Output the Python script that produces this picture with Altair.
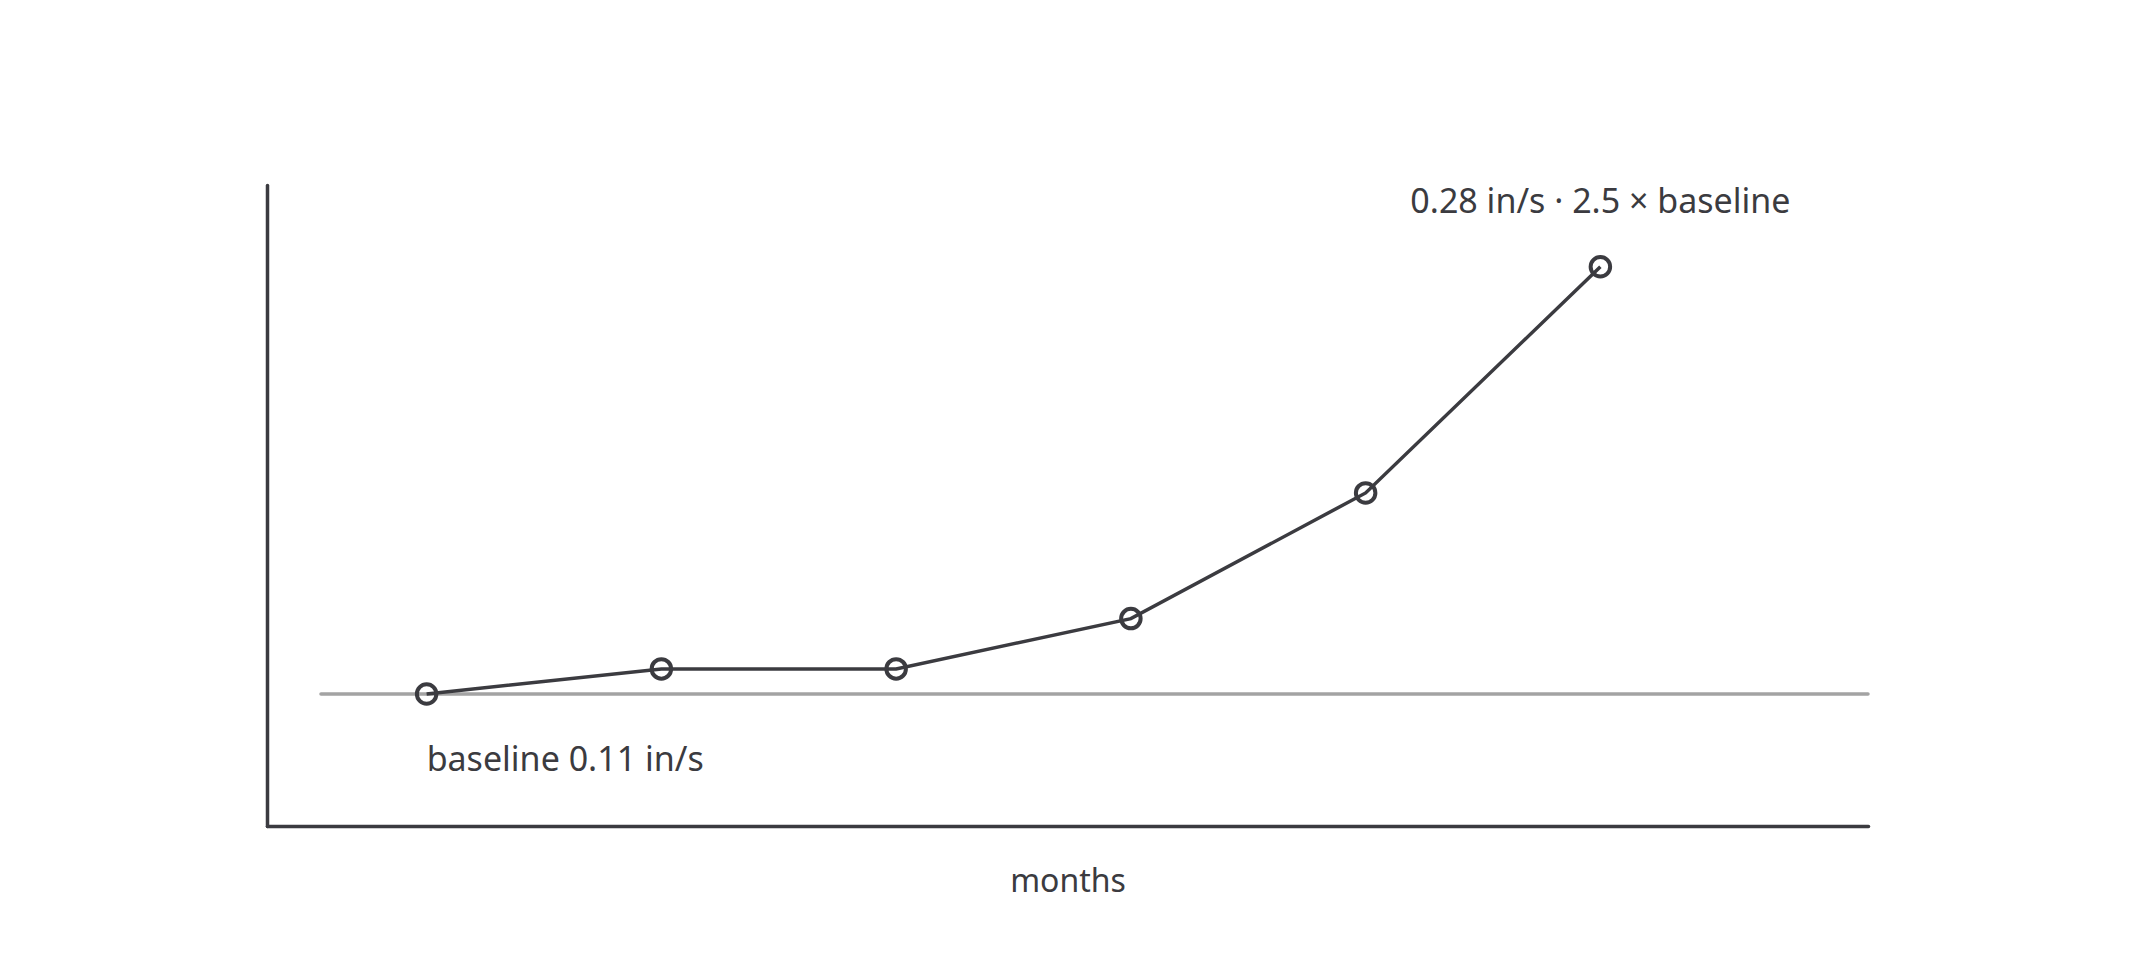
import altair as alt
import pandas as pd

months = [1, 2, 3, 4, 5, 6]
velocity = [0.11, 0.12, 0.12, 0.14, 0.19, 0.28]
baseline_value = [0.11]
baseline_span = [0.55, 7.14]
peak_label = ["0.28 in/s · 2.5 × baseline"]
base_label = ["baseline 0.11 in/s"]

INK = "#3b3b40"
FONT = "Noto Sans"

df = pd.DataFrame({"month": months, "v": velocity})
xs = alt.Scale(domain=[0.32, 7.14], nice=False, zero=False)
ys = alt.Scale(domain=[0.0575, 0.3125], nice=False, zero=False)

xax = alt.Axis(title="months", ticks=False, labels=False, grid=False,
               domainColor=INK, domainWidth=3.5, titleFont=FONT, titleFontSize=32,
               titleFontWeight="normal", titleColor=INK, titlePadding=40, domainCap="round")
yax = alt.Axis(title=None, ticks=False, labels=False, grid=False,
               domainColor=INK, domainWidth=3.5, domainCap="round")

rule_df = pd.DataFrame({"x": [baseline_span[0]], "x2": [baseline_span[1]], "y": baseline_value})
rule = alt.Chart(rule_df).mark_rule(color="#a3a3a3", strokeWidth=3.5, strokeCap="round").encode(
    x=alt.X("x:Q", scale=xs, axis=xax),
    x2="x2:Q",
    y=alt.Y("y:Q", scale=ys, axis=yax),
)

line = alt.Chart(df).mark_line(color=INK, strokeWidth=3.5).encode(
    x=alt.X("month:Q", scale=xs, axis=xax),
    y=alt.Y("v:Q", scale=ys, axis=yax),
)

pts = alt.Chart(df).mark_point(shape="circle", filled=False, size=380, strokeWidth=4, color=INK, opacity=1).encode(
    x=alt.X("month:Q", scale=xs, axis=xax),
    y=alt.Y("v:Q", scale=ys, axis=yax),
)

peak_df = pd.DataFrame({"month": [months[-1]], "v": [velocity[-1]], "t": peak_label})
peak = alt.Chart(peak_df).mark_text(align="center", baseline="alphabetic", dy=-54,
                                    font=FONT, fontSize=34, color=INK).encode(
    x=alt.X("month:Q", scale=xs, axis=xax),
    y=alt.Y("v:Q", scale=ys, axis=yax),
    text="t:N",
)

base_df = pd.DataFrame({"month": [months[0]], "v": [velocity[0]], "t": base_label})
base = alt.Chart(base_df).mark_text(align="left", baseline="alphabetic", dy=77,
                                    font=FONT, fontSize=34, color=INK).encode(
    x=alt.X("month:Q", scale=xs, axis=xax),
    y=alt.Y("v:Q", scale=ys, axis=yax),
    text="t:N",
)

chart = alt.layer(rule, line, pts, peak, base).properties(
    width=1601, height=641,
    autosize=alt.AutoSizeParams(type="none"),
    padding={"left": 259, "top": 177, "right": 10, "bottom": 120},
    background="white",
).configure_view(stroke=None)

chart.save("out.html", embed_options={"renderer": "svg", "actions": False})
